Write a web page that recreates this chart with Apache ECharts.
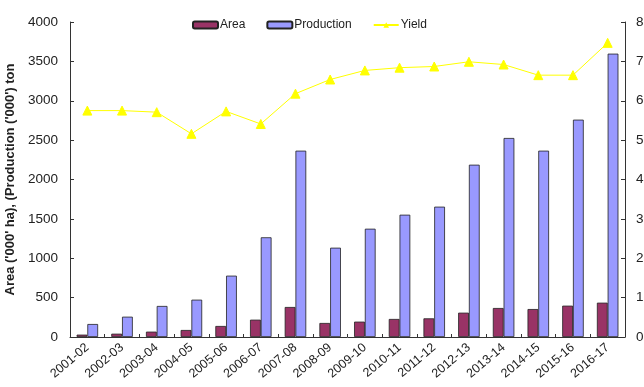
<!DOCTYPE html>
<html><head><meta charset="utf-8">
<script src="https://cdn.jsdelivr.net/npm/echarts@6/dist/echarts.min.js"></script>
<style>html,body{margin:0;padding:0;background:#fff}#c{width:644px;height:387px}</style>
</head><body><div id="c"></div>
<script>
const categories = ['2001-02','2002-03','2003-04','2004-05','2005-06','2006-07','2007-08','2008-09','2009-10','2010-11','2011-12','2012-13','2013-14','2014-15','2015-16','2016-17'];
const area = [30,42,68,89,140,220,381,178,195,229,237,309,368,355,398,436];
const production = [165,258,394,474,779,1266,2366,1134,1375,1553,1655,2188,2527,2366,2760,3598];
const yieldVals = [5.75,5.75,5.71,5.16,5.73,5.41,6.18,6.54,6.77,6.84,6.87,6.99,6.92,6.65,6.65,7.47];

const font = 'Liberation Sans, Arial, sans-serif';
const chart = echarts.init(document.getElementById('c'), null, {renderer:'canvas'});
chart.setOption({
  animation:false,
  backgroundColor:'#fff',
  textStyle:{fontFamily:font},
  legend:{
    left:187, top:14, itemWidth:25, itemHeight:7, itemGap:21,
    textStyle:{fontSize:12, color:'#222', fontFamily:font, padding:[0,0,0,-3]},
    data:[{name:'Area'},{name:'Production'},{name:'Yield'}]
  },
  grid:{left:70, right:19, top:22, bottom:50, containLabel:false, outerBoundsMode:'none'},
  xAxis:{
    type:'category', data:categories,
    axisLine:{lineStyle:{color:'#333', width:1}},
    axisTick:{show:true, inside:true, length:3, lineStyle:{color:'#333'}},
    axisLabel:{rotate:40, fontSize:12.5, color:'#222', margin:9, interval:0, fontFamily:font}
  },
  yAxis:[{
    type:'value', min:0, max:4000, interval:500,
    name:"Area ('000' ha), (Production ('000') ton",
    nameLocation:'middle', nameGap:53,
    nameTextStyle:{fontSize:13, fontWeight:'bold', color:'#222', fontFamily:font},
    axisLine:{show:true, lineStyle:{color:'#333'}},
    axisTick:{show:true, inside:true, length:4, lineStyle:{color:'#333'}},
    axisLabel:{fontSize:13.5, color:'#222', margin:12, fontFamily:font, formatter:v=>String(v)},
    splitLine:{show:false}
  },{
    type:'value', min:0, max:8, interval:1, position:'right',
    axisLine:{show:true, lineStyle:{color:'#333'}},
    axisTick:{show:true, inside:true, length:4, lineStyle:{color:'#333'}},
    axisLabel:{fontSize:13.5, color:'#222', margin:11, fontFamily:font, formatter:v=>String(v)},
    splitLine:{show:false}
  }],
  series:[{
    name:'Area', type:'bar', data:area, barGap:'0%', barCategoryGap:'38%',
    itemStyle:{color:'#993366', borderColor:'#222', borderWidth:0.8}
  },{
    name:'Production', type:'bar', data:production,
    itemStyle:{color:'#9999FF', borderColor:'#222', borderWidth:0.8}
  },{
    name:'Yield', type:'line', yAxisIndex:1, data:yieldVals,
    symbol:'triangle', symbolSize:9,
    lineStyle:{color:'#FFFF00', width:1},
    itemStyle:{color:'#FFFF00', borderColor:'#FFFF00'}
  }]
});
</script></body></html>
